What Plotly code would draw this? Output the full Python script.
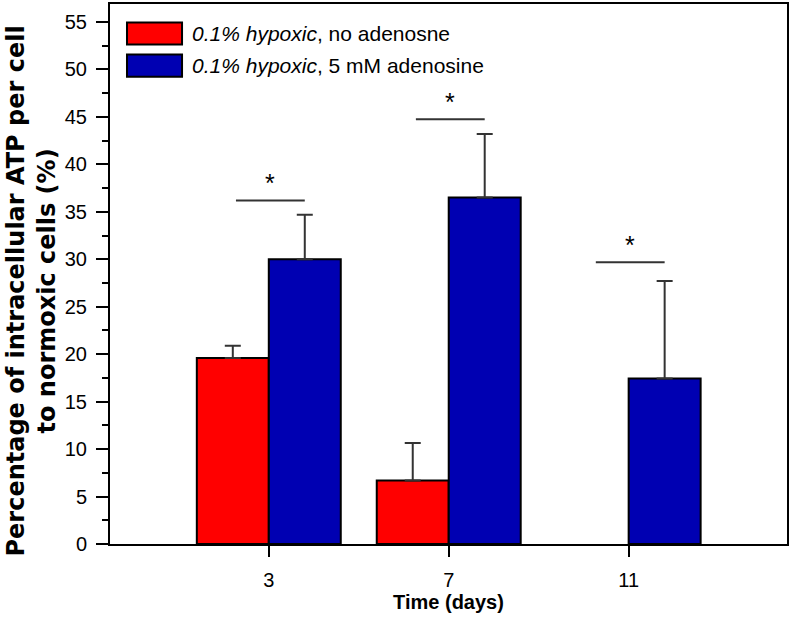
import plotly.graph_objects as go

days = [3, 7, 11]
tick_labels = ["3", "7", "11"]
no_adenosine = [19.6, 6.7, 0.0]
no_adenosine_err = [1.3, 3.95, 0.0]
adenosine = [30.0, 36.5, 17.45]
adenosine_err = [4.7, 6.7, 10.25]
sig_y = [36.2, 44.75, 29.7]
legend_names = ["<i>0.1% hypoxic</i>, no adenosne", "<i>0.1% hypoxic</i>, 5 mM adenosine"]
y_title = "<b>Percentage of intracellular ATP per cell<br>to normoxic cells (%)</b>"
x_title = "<b>Time (days)</b>"
colors = ["#FF0000", "#0000B2"]

FONT = "Liberation Sans, Arial, sans-serif"

# a value of 0 means no bar was drawn in the original figure
red_y = [v if v > 0 else None for v in no_adenosine]

fig = go.Figure()
fig.add_trace(go.Bar(
    x=days, y=red_y, name=legend_names[0],
    marker=dict(color=colors[0], line=dict(color="black", width=2)),
    error_y=dict(type="data", symmetric=False, array=no_adenosine_err,
                 arrayminus=[0] * 3, color="#333333", thickness=2, width=8),
    showlegend=False,
))
fig.add_trace(go.Bar(
    x=days, y=adenosine, name=legend_names[1],
    marker=dict(color=colors[1], line=dict(color="black", width=2)),
    error_y=dict(type="data", symmetric=False, array=adenosine_err,
                 arrayminus=[0] * 3, color="#333333", thickness=2, width=8),
    showlegend=False,
))

# significance lines and stars
for d, s in zip(days, sig_y):
    fig.add_shape(type="line", xref="x", yref="y", x0=d - 0.73, x1=d + 0.8,
                  y0=s, y1=s, line=dict(color="#333333", width=2))
    fig.add_annotation(x=d + 0.03, y=s, xref="x", yref="y", text="*",
                       showarrow=False, yanchor="bottom", yshift=1,
                       font=dict(family=FONT, size=25, color="black"))

# custom legend
leg_rows = [(0.9454, colors[0], legend_names[0]), (0.886, colors[1], legend_names[1])]
for yc, col, name in leg_rows:
    fig.add_shape(type="rect", xref="paper", yref="paper",
                  x0=0.0251, x1=0.1064, y0=yc - 0.0205, y1=yc + 0.0205,
                  fillcolor=col, line=dict(color="black", width=2))
    fig.add_annotation(x=0.1175, y=yc, xref="paper", yref="paper", text=name,
                       showarrow=False, xanchor="left", yanchor="middle",
                       font=dict(family=FONT, size=21, color="black"))

# y-axis title (two centred lines, rotated)
fig.add_annotation(x=-0.1174, y=0.4685, xref="paper", yref="paper", text=y_title,
                   showarrow=False, textangle=-90, xanchor="center", yanchor="middle",
                   align="center",
                   font=dict(family="DejaVu Sans, sans-serif", size=24, color="black"))

fig.update_layout(
    width=792, height=618,
    margin=dict(l=110, r=5, t=4, b=74, autoexpand=False),
    paper_bgcolor="white", plot_bgcolor="white",
    barmode="group", bargap=0.2, bargroupgap=0,
    font=dict(family=FONT, size=20, color="black"),
)
fig.update_xaxes(
    automargin=False,
    range=[-0.53, 14.52], tickmode="array", tickvals=days, ticktext=tick_labels,
    ticks="outside", ticklen=11, tickwidth=2, tickcolor="black",
    ticklabelstandoff=6,
    showline=True, linecolor="black", linewidth=2, mirror=True,
    showgrid=False, zeroline=False,
    tickfont=dict(family=FONT, size=20),
    title=dict(text=x_title, font=dict(family=FONT, size=20), standoff=3),
)
fig.update_yaxes(
    automargin=False,
    range=[0, 56.9], tickmode="linear", tick0=0, dtick=5,
    ticks="outside", ticklen=12, tickwidth=2, tickcolor="black",
    ticklabelstandoff=5,
    minor=dict(dtick=2.5, ticks="outside", ticklen=6, tickwidth=2, tickcolor="black"),
    showline=True, linecolor="black", linewidth=2, mirror=True,
    showgrid=False, zeroline=False,
    tickfont=dict(family=FONT, size=20),
)

fig.write_html("out.html", config={"displayModeBar": False},
               post_script="document.body.style.margin='0px';")
